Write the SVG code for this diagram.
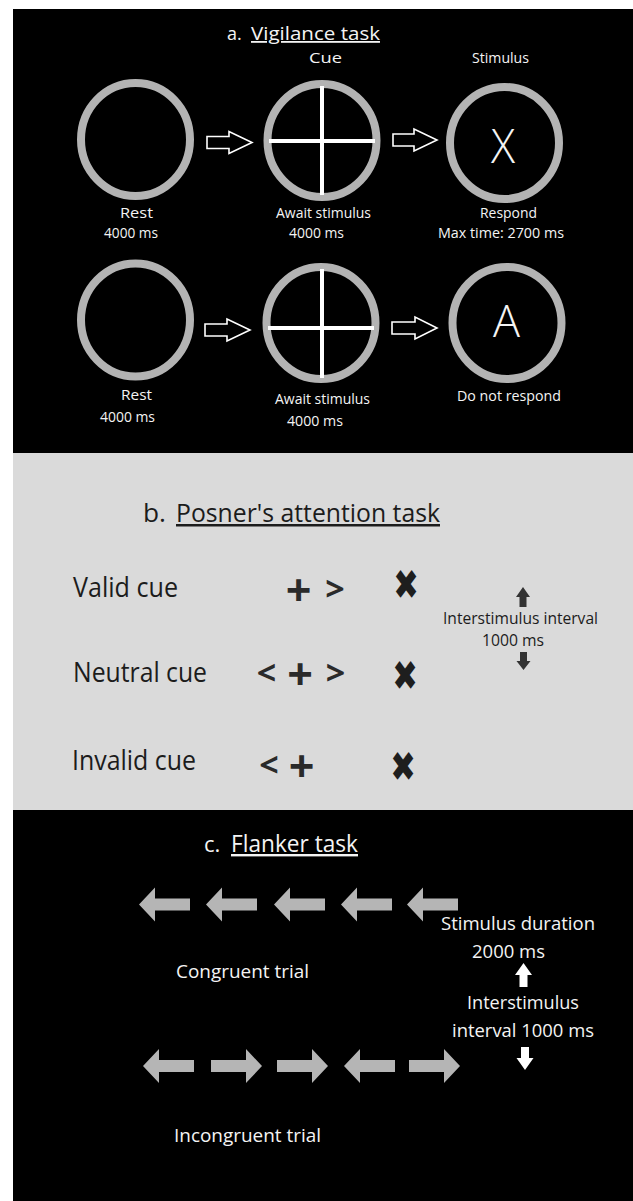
<svg xmlns="http://www.w3.org/2000/svg" xmlns:xlink="http://www.w3.org/1999/xlink" width="633" height="1201" viewBox="0 0 633 1201">
<style>
.t{font-family:"Open Sans","Noto Sans","DejaVu Sans",sans-serif;}
.w{fill:#f4f4f4;}
.d{fill:#1c1c1c;}
.ring{fill:none;stroke:#b3b3b3;stroke-width:8;}
.cross{stroke:#ffffff;stroke-width:4;}
.hollow{fill:none;stroke:#ffffff;stroke-width:1.6;stroke-linejoin:miter;}
.flank{fill:#b5b5b5;}
.sym{font-family:"Open Sans","DejaVu Sans",sans-serif;font-weight:bold;fill:#2a2a2a;text-anchor:middle;dominant-baseline:central;}
.heavy{font-family:"DejaVu Sans",sans-serif;fill:#1e1e1e;text-anchor:middle;dominant-baseline:central;}
.u{text-decoration:underline;}
</style>
<defs>
<path id="larr" d="M0,0 L16,-17 L16,-6 L51,-6 L51,6 L16,6 L16,17 Z"/>
<path id="rarr" d="M51,0 L35,-17 L35,-6 L0,-6 L0,6 L35,6 L35,17 Z"/>
</defs>

<rect x="0" y="0" width="633" height="1201" fill="#ffffff"/>

<!-- Panel a -->
<g id="panel-a">
<rect x="13" y="9" width="620" height="444" fill="#000000"/>
<text class="t w" x="227" y="40" font-size="18">a.</text>
<text class="t w u" x="251" y="40" font-size="18" textLength="129" lengthAdjust="spacingAndGlyphs">Vigilance task</text>
<text class="t w" x="309" y="63" font-size="14" textLength="33" lengthAdjust="spacingAndGlyphs">Cue</text>
<text class="t w" x="472" y="63" font-size="14" textLength="57" lengthAdjust="spacingAndGlyphs">Stimulus</text>
</g>

<g id="a1-rest">
<ellipse class="ring" cx="135.5" cy="139.5" rx="54.5" ry="56.5"/>
<text class="t w" x="120" y="218" font-size="14" textLength="33" lengthAdjust="spacingAndGlyphs">Rest</text>
<text class="t w" x="104" y="238" font-size="14" textLength="54" lengthAdjust="spacingAndGlyphs">4000 ms</text>
</g>
<g id="a1-cue">
<ellipse class="ring" cx="322" cy="140.5" rx="54.5" ry="56.5"/>
<line class="cross" x1="322" y1="86" x2="322" y2="195"/>
<line class="cross" x1="269" y1="141" x2="375" y2="141"/>
<text class="t w" x="276" y="218" font-size="14" textLength="95" lengthAdjust="spacingAndGlyphs">Await stimulus</text>
<text class="t w" x="289" y="238" font-size="14" textLength="55" lengthAdjust="spacingAndGlyphs">4000 ms</text>
</g>
<g id="a1-stim">
<ellipse class="ring" cx="504.5" cy="143" rx="54.5" ry="56"/>
<text class="t w" x="491" y="163" font-size="48" textLength="24" lengthAdjust="spacingAndGlyphs" font-weight="300">X</text>
<text class="t w" x="480" y="218" font-size="14" textLength="57" lengthAdjust="spacingAndGlyphs">Respond</text>
<text class="t w" x="438" y="238" font-size="14" textLength="126" lengthAdjust="spacingAndGlyphs">Max time: 2700 ms</text>
</g>

<g id="a2-rest">
<ellipse class="ring" cx="135.5" cy="320" rx="54.5" ry="56.5"/>
<text class="t w" x="121" y="400" font-size="14" textLength="31" lengthAdjust="spacingAndGlyphs">Rest</text>
<text class="t w" x="100" y="422" font-size="14" textLength="55" lengthAdjust="spacingAndGlyphs">4000 ms</text>
</g>
<g id="a2-cue">
<ellipse class="ring" cx="321" cy="323" rx="54.5" ry="56"/>
<line class="cross" x1="322" y1="269" x2="322" y2="378"/>
<line class="cross" x1="268" y1="328" x2="374" y2="328"/>
<text class="t w" x="275" y="404" font-size="14" textLength="95" lengthAdjust="spacingAndGlyphs">Await stimulus</text>
<text class="t w" x="287" y="426" font-size="14" textLength="56" lengthAdjust="spacingAndGlyphs">4000 ms</text>
</g>
<g id="a2-stim">
<ellipse class="ring" cx="507" cy="323" rx="54.5" ry="56"/>
<text class="t w" x="493" y="337" font-size="45" textLength="27" lengthAdjust="spacingAndGlyphs" font-weight="300">A</text>
<text class="t w" x="457" y="401" font-size="14" textLength="104" lengthAdjust="spacingAndGlyphs">Do not respond</text>
</g>

<g id="connectors">
<polygon class="hollow" points="207,136.5 229,136.5 229,131.5 252,142.5 229,153.5 229,148.5 207,148.5"/>
<polygon class="hollow" points="393,134 414,134 414,129 437,140 414,151 414,146 393,146"/>
<polygon class="hollow" points="205,324 227,324 227,319 250,330 227,341 227,336 205,336"/>
<polygon class="hollow" points="392,322 415,322 415,317 437,328 415,339 415,334 392,334"/>
</g>

<!-- Panel b -->
<g id="panel-b">
<rect x="13" y="453" width="620" height="357" fill="#dadada"/>
<text class="t d" x="143" y="522" font-size="25" textLength="23" lengthAdjust="spacingAndGlyphs">b.</text>
<text class="t d u" x="176" y="522" font-size="25" textLength="264" lengthAdjust="spacingAndGlyphs">Posner's attention task</text>
</g>
<g id="b-valid">
<text class="t d" x="73" y="597" font-size="27" textLength="105" lengthAdjust="spacingAndGlyphs">Valid cue</text>
<text class="sym" x="298.5" y="588" font-size="45">+</text>
<text class="sym" x="335" y="588" font-size="34">&gt;</text>
<text class="heavy" transform="translate(406,584.5) scale(0.85,1.15)" font-size="36">✖</text>
</g>
<g id="b-neutral">
<text class="t d" x="73" y="682" font-size="27" textLength="134" lengthAdjust="spacingAndGlyphs">Neutral cue</text>
<text class="sym" x="266.5" y="672" font-size="34">&lt;</text>
<text class="sym" x="300" y="672" font-size="45">+</text>
<text class="sym" x="335.5" y="672" font-size="34">&gt;</text>
<text class="heavy" transform="translate(405,676) scale(0.85,1.15)" font-size="36">✖</text>
</g>
<g id="b-invalid">
<text class="t d" x="72" y="770" font-size="27" textLength="124" lengthAdjust="spacingAndGlyphs">Invalid cue</text>
<text class="sym" x="269" y="764" font-size="34">&lt;</text>
<text class="sym" x="301.5" y="764" font-size="45">+</text>
<text class="heavy" transform="translate(403,767) scale(0.85,1.15)" font-size="36">✖</text>
</g>
<g id="b-isi">
<polygon fill="#333333" points="523,587 530,597 526.5,597 526.5,607 519.5,607 519.5,597 516,597"/>
<text class="t d" x="443" y="624" font-size="16" textLength="155" lengthAdjust="spacingAndGlyphs">Interstimulus interval</text>
<text class="t d" x="482" y="646" font-size="16" textLength="62" lengthAdjust="spacingAndGlyphs">1000 ms</text>
<polygon fill="#333333" points="520,652 527,652 527,661 530.5,661 523.5,670 516.5,661 520,661"/>
</g>

<!-- Panel c -->
<g id="panel-c">
<rect x="13" y="810" width="620" height="391" fill="#000000"/>
<text class="t w" x="204" y="852" font-size="22">c.</text>
<text class="t w u" x="231" y="852" font-size="24" textLength="127" lengthAdjust="spacingAndGlyphs">Flanker task</text>
</g>
<g id="c-congruent">
<use href="#larr" class="flank" x="139" y="904.5"/>
<use href="#larr" class="flank" x="206" y="904.5"/>
<use href="#larr" class="flank" x="274" y="904.5"/>
<use href="#larr" class="flank" x="341" y="904.5"/>
<use href="#larr" class="flank" x="407" y="904.5"/>
<text class="t w" x="176" y="978" font-size="18" textLength="133" lengthAdjust="spacingAndGlyphs">Congruent trial</text>
</g>
<g id="c-incongruent">
<use href="#larr" class="flank" x="143" y="1066"/>
<use href="#rarr" class="flank" x="211" y="1066"/>
<use href="#rarr" class="flank" x="277" y="1066"/>
<use href="#larr" class="flank" x="344" y="1066"/>
<use href="#rarr" class="flank" x="409" y="1066"/>
<text class="t w" x="174" y="1142" font-size="18" textLength="147" lengthAdjust="spacingAndGlyphs">Incongruent trial</text>
</g>
<g id="c-timing">
<text class="t w" x="441" y="930" font-size="18" textLength="154" lengthAdjust="spacingAndGlyphs">Stimulus duration</text>
<text class="t w" x="472" y="958" font-size="18" textLength="73" lengthAdjust="spacingAndGlyphs">2000 ms</text>
<polygon fill="#ffffff" points="523.5,963 532,975 527.5,975 527.5,987 519.5,987 519.5,975 515,975"/>
<text class="t w" x="467" y="1009" font-size="18" textLength="112" lengthAdjust="spacingAndGlyphs">Interstimulus</text>
<text class="t w" x="452" y="1037" font-size="18" textLength="142" lengthAdjust="spacingAndGlyphs">interval 1000 ms</text>
<polygon fill="#ffffff" points="521,1047 529,1047 529,1058 533.5,1058 525,1070 516.5,1058 521,1058"/>
</g>
</svg>
